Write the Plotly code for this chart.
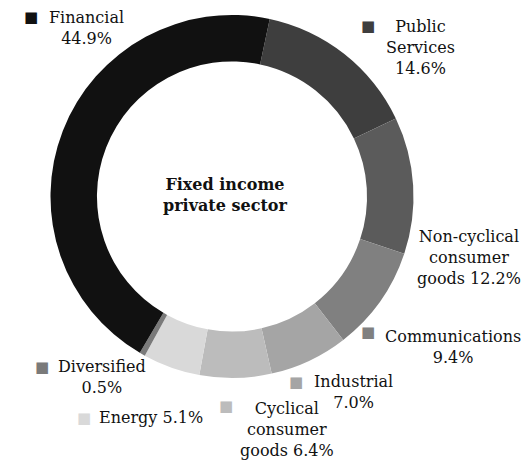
import plotly.graph_objects as go

W, H = 524, 466

# Sector breakdown (share of portfolio, %)
sectors = ["Public Services", "Non-cyclical consumer goods", "Communications",
           "Industrial", "Cyclical consumer goods", "Energy", "Diversified", "Financial"]
shares = [14.6, 12.2, 9.4, 7.0, 6.4, 5.1, 0.5, 44.9]
colors = ["#3e3e3e", "#5b5b5b", "#808080", "#a5a5a5", "#bcbcbc", "#d9d9d9", "#7a7a7a", "#111111"]

# label text lines (the value line is appended from `shares`)
label_lines = {
    "Financial": ["Financial"],
    "Public Services": ["Public", "Services"],
    "Non-cyclical consumer goods": ["Non-cyclical", "consumer", "goods"],
    "Communications": ["Communications"],
    "Industrial": ["Industrial"],
    "Cyclical consumer goods": ["Cyclical", "consumer", "goods"],
    "Energy": ["Energy"],
    "Diversified": ["Diversified"],
}
# whether the value sits on the last text line or on its own line
value_inline = {"Non-cyclical consumer goods": True, "Cyclical consumer goods": True, "Energy": True}

FONT = "DejaVu Serif"
FS = 16

cx, cy, R = 232, 196.5, 181.5


def px(x):
    return x / W


def py(y):
    return 1 - y / H


fig = go.Figure(go.Pie(
    labels=sectors, values=shares, sort=False, direction="clockwise", rotation=12,
    hole=0.744, textinfo="none", hoverinfo="label+percent",
    marker=dict(colors=colors, line=dict(width=0)),
    domain=dict(x=[px(cx - R), px(cx + R)], y=[py(cy + R), py(cy - R)]),
    showlegend=False,
))

# label placement: (text anchor x, y of first line, xanchor, marker square x, y)
layout_pos = {
    "Financial": (86, 6, "center", 31, 17),
    "Public Services": (420, 15, "center", 368, 26),
    "Non-cyclical consumer goods": (469, 225, "center", None, None),
    "Communications": (453, 325, "center", 368, 332),
    "Industrial": (353, 370, "center", 296, 382),
    "Cyclical consumer goods": (287, 397, "center", 226, 406),
    "Energy": (151, 406, "center", 84, 418),
    "Diversified": (102, 355, "center", 42, 367),
}

annotations = []
for name, val in zip(sectors, shares):
    lines = list(label_lines[name])
    vtxt = f"{val:.1f}%"
    if value_inline.get(name):
        lines[-1] = lines[-1] + " " + vtxt
    else:
        lines.append(vtxt)
    tx, ty, xa, mx, my = layout_pos[name]
    annotations.append(dict(
        x=px(tx), y=py(ty), xref="paper", yref="paper", xanchor=xa, yanchor="top",
        text="<br>".join(lines), showarrow=False, align="center",
        font=dict(family=FONT, size=FS, color="#111111"),
    ))
    if mx is not None:
        annotations.append(dict(
            x=px(mx), y=py(my), xref="paper", yref="paper", xanchor="center", yanchor="middle",
            text="■", showarrow=False,
            font=dict(family="DejaVu Sans", size=15, color=colors[sectors.index(name)]),
        ))

annotations.append(dict(
    x=px(225), y=py(195), xref="paper", yref="paper", xanchor="center", yanchor="middle",
    text="<b>Fixed income<br>private sector</b>", showarrow=False, align="center",
    font=dict(family=FONT, size=16, color="#111111"),
))

fig.update_layout(
    width=W, height=H, margin=dict(l=0, r=0, t=0, b=0),
    paper_bgcolor="white", plot_bgcolor="white",
    annotations=annotations,
)

fig.write_html("out.html")
